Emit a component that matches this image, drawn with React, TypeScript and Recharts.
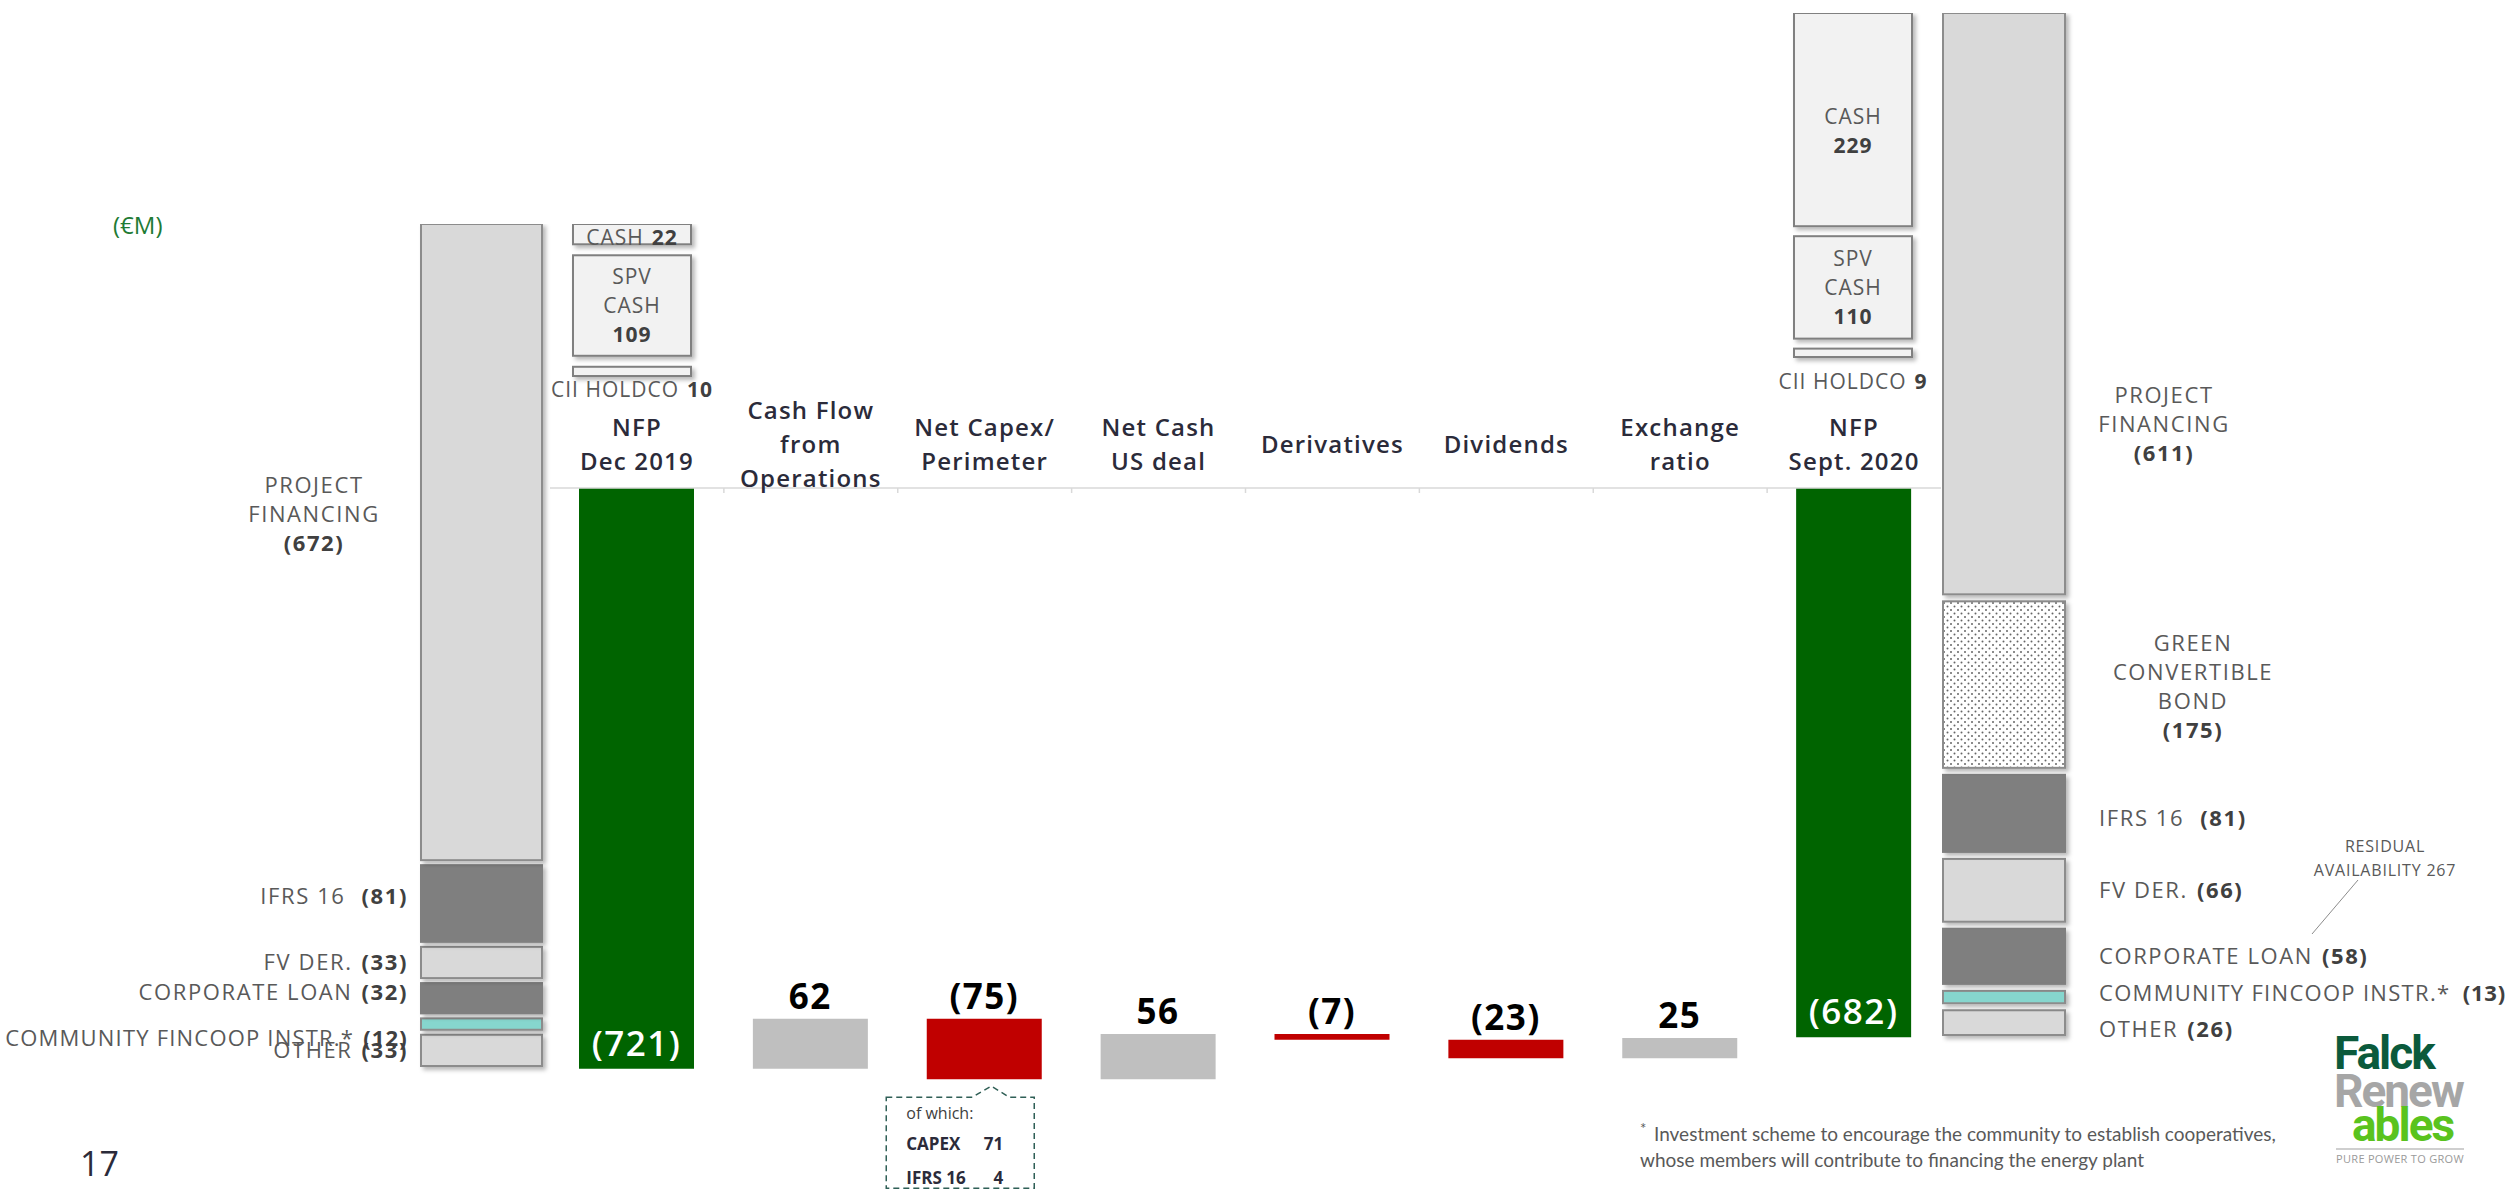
import React from 'react';
import { BarChart, Bar, XAxis, YAxis, Cell, LabelList } from 'recharts';

const FONT = '"Open Sans", "DejaVu Sans", sans-serif';
const TEXT_GRAY = '#595959';
const NUM_GRAY = '#404040';
const DARK = '#2b2b3a';

// bridge (NFP walk)
const categories = [
  'NFP\nDec 2019',
  'Cash Flow\nfrom\nOperations',
  'Net Capex/\nPerimeter',
  'Net Cash\nUS deal',
  'Derivatives',
  'Dividends',
  'Exchange\nratio',
  'NFP\nSept. 2020',
];
const bridgeValues = [-721, 62, -75, 56, -7, -23, 25, -682];
const totalFlags = [true, false, false, false, false, false, false, true];

const capexBreakdownLabels = ['CAPEX', 'IFRS 16'];
const capexBreakdownValues = [71, 4];

// debt breakdown, top to bottom
const debtDec2019Labels = ['PROJECT FINANCING', 'IFRS 16', 'FV DER.', 'CORPORATE LOAN', 'COMMUNITY FINCOOP INSTR.*', 'OTHER'];
const debtDec2019Values = [672, 81, 33, 32, 12, 33];
const debtSep2020Labels = ['PROJECT FINANCING', 'GREEN CONVERTIBLE BOND', 'IFRS 16', 'FV DER.', 'CORPORATE LOAN', 'COMMUNITY FINCOOP INSTR.*', 'OTHER'];
const debtSep2020Values = [611, 175, 81, 66, 58, 13, 26];

// cash, top to bottom
const cashLabels = ['CASH', 'SPV CASH', 'CII HOLDCO'];
const cashDec2019Values = [22, 109, 10];
const cashSep2020Values = [229, 110, 9];

const residualAvailability = 267;

let running = 0;
const bridgeData = categories.map((name, i) => {
  const v = bridgeValues[i];
  let lo: number, hi: number;
  if (totalFlags[i]) {
    lo = v; hi = 0; running = v;
  } else {
    lo = Math.min(running, running + v); hi = Math.max(running, running + v); running += v;
  }
  return { name, value: v, total: totalFlags[i], range: [lo, hi] };
});
const capexIndex = categories.indexOf('Net Capex/\nPerimeter');

const fmt = (v: number) => (v < 0 ? `(${Math.abs(v)})` : `${v}`);
const paren = (v: number) => `(${v})`;

const MAIN_W = 1391;
const BAND = MAIN_W / categories.length;

function CategoryTick(props: any) {
  const { x, y, payload, index } = props;
  const lines = String(payload.value).split('\n');
  const lh = 34;
  const cy = y - 44;
  return (
    <g>
      <text textAnchor="middle" fontFamily={FONT} fontSize={24} fontWeight={600} fill={DARK} letterSpacing={1.2}>
        {lines.map((l, k) => (
          <tspan key={k} x={x} y={cy + (k - (lines.length - 1) / 2) * lh + 8.5}>{l}</tspan>
        ))}
      </text>
      {index < categories.length - 1 && (
        <line x1={x + BAND / 2} x2={x + BAND / 2} y1={y} y2={y + 5} stroke="#d9d9d9" strokeWidth={1.5} />
      )}
    </g>
  );
}

function Callout({ cx, b }: { cx: number; b: number }) {
  const L = cx - 98, R = cx + 50, T = b + 18, B = b + 109;
  const d = `M ${L} ${T} L ${cx - 12} ${T} L ${cx + 7} ${b + 7} L ${cx + 25} ${T} L ${R} ${T} L ${R} ${B} L ${L} ${B} Z`;
  return (
    <g fontFamily={FONT}>
      <path d={d} fill="none" stroke="#2f5f56" strokeWidth={1.5} strokeDasharray="6 4" />
      <text x={L + 20} y={T + 22} fontSize={16} fill={NUM_GRAY}>of which:</text>
      {capexBreakdownLabels.map((l, k) => (
        <g key={l}>
          <text x={L + 20} y={T + 53 + k * 34} fontSize={17} fontWeight={700} fill={DARK}>{l}</text>
          <text x={R - 31} y={T + 53 + k * 34} fontSize={17} fontWeight={700} fill={DARK} textAnchor="end">
            {capexBreakdownValues[k]}
          </text>
        </g>
      ))}
    </g>
  );
}

const renderBridgeLabel = (p: any) => {
  const vb = p.viewBox && p.viewBox.width !== undefined ? p.viewBox : p;
  const h = vb.height || 0;
  const top = Math.min(vb.y, vb.y + h);
  const bottom = Math.max(vb.y, vb.y + h);
  const i = typeof p.index === 'number' ? p.index : bridgeData.findIndex((d) => d.value === p.value);
  const d = bridgeData[i];
  if (!d) return null;
  const cx = vb.x + vb.width / 2;
  return (
    <g>
      {d.total ? (
        <text x={cx} y={bottom - 25 + 12} textAnchor="middle" fontFamily={FONT} fontSize={35} fontWeight={600} fill="#fff" letterSpacing={1.5}>
          {fmt(d.value)}
        </text>
      ) : (
        <text x={cx} y={top - 22 + 12} textAnchor="middle" fontFamily={FONT} fontSize={35} fontWeight={700} fill="#000" letterSpacing={1.5}>
          {fmt(d.value)}
        </text>
      )}
      {i === capexIndex && <Callout cx={cx} b={bottom} />}
    </g>
  );
};

type Box = { x: number; y: number; width: number; height: number };

function segStyle(label: string) {
  if (label === 'IFRS 16' || label === 'CORPORATE LOAN') return { fill: '#7f7f7f', stroke: '#7f7f7f' };
  if (label.startsWith('COMMUNITY')) return { fill: '#86d6ce', stroke: '#8c8c8c' };
  if (label.startsWith('GREEN')) return { fill: 'url(#dots)', stroke: '#8c8c8c' };
  if (cashLabels.includes(label)) return { fill: '#f2f2f2', stroke: '#808080' };
  return { fill: '#d9d9d9', stroke: '#8c8c8c' };
}

function Stack(props: {
  labels: string[]; values: number[]; left: number; top: number; width: number;
  barX: number; barW: number; gap: number; plotH: number; bottomPad: number;
  renderLabel: (label: string, value: number, box: Box) => React.ReactNode;
}) {
  const { labels, values, left, top, width, barX, barW, gap, plotH, bottomPad, renderLabel } = props;
  const n = values.length;
  const row: Record<string, number> = {};
  values.forEach((v, i) => { row['s' + i] = v; });
  const total = values.reduce((a, b) => a + b, 0);
  const bottomFirst = values.map((_, k) => n - 1 - k);
  // the band is 2px wider than the bar so Recharts keeps the exact bar size
  return (
    <div style={{ position: 'absolute', left, top }}>
      <BarChart
        width={width}
        height={(n - 1) * gap + plotH + bottomPad}
        data={[row]}
        margin={{ top: (n - 1) * gap, right: width - barX - barW - 1, bottom: bottomPad, left: barX - 1 }}
        barCategoryGap={0}
      >
        <XAxis hide />
        <YAxis hide domain={[0, total]} />
        {bottomFirst.map((i, k) => (
          <Bar
            key={i}
            dataKey={'s' + i}
            stackId="s"
            barSize={barW}
            isAnimationActive={false}
            shape={(p: any) => {
              const box = { x: p.x, y: p.y - k * gap, width: p.width, height: p.height };
              const st = segStyle(labels[i]);
              return (
                <g>
                  <rect x={box.x} y={box.y} width={box.width} height={box.height} fill={st.fill} stroke={st.stroke} strokeWidth={2} filter="url(#boxShadow)" />
                  {renderLabel(labels[i], values[i], box)}
                </g>
              );
            }}
          />
        ))}
      </BarChart>
    </div>
  );
}

type Off = { dx?: number; dy?: number; valueX?: number; ls?: number };

function debtLabeler(side: 'left' | 'right', offsets: Record<string, Off>) {
  return (label: string, value: number, box: Box) => {
    const o = offsets[label] || {};
    const dx = o.dx ?? (side === 'left' ? -13 : 34);
    const dy = o.dy ?? 0;
    const edge = side === 'left' ? box.x : box.x + box.width;
    const cy = box.y + box.height / 2 + dy;
    const common = { fontFamily: FONT, fontSize: 22, letterSpacing: o.ls ?? 1.6 };
    if (box.height > 100) {
      const lines: (string | null)[] = [...label.split(' '), null];
      const lh = 29;
      return (
        <text textAnchor="middle" {...common}>
          {lines.map((l, k) => (
            <tspan key={k} x={edge + dx} y={cy + (k - (lines.length - 1) / 2) * lh + 8}
              fontWeight={l === null ? 700 : 400} fill={l === null ? NUM_GRAY : TEXT_GRAY}>
              {l === null ? paren(value) : l}
            </tspan>
          ))}
        </text>
      );
    }
    if (o.valueX !== undefined) {
      return (
        <g>
          <text x={edge + dx} y={cy + 8} textAnchor="start" fill={TEXT_GRAY} {...common}>{label}</text>
          <text x={edge + o.valueX} y={cy + 8} textAnchor="end" fill={NUM_GRAY} fontWeight={700} fontFamily={FONT} fontSize={22} letterSpacing={0.8}>
            {paren(value)}
          </text>
        </g>
      );
    }
    return (
      <text x={edge + dx} y={cy + 8} textAnchor={side === 'left' ? 'end' : 'start'} fill={TEXT_GRAY} {...common}>
        {label}
        <tspan dx={label === 'IFRS 16' ? 16 : 9} fontWeight={700} fill={NUM_GRAY}>{paren(value)}</tspan>
      </text>
    );
  };
}

function cashLabeler(belowDy: number, dyMap: Record<string, number>) {
  return (label: string, value: number, box: Box) => {
    const cx = box.x + box.width / 2;
    const dy = dyMap[label] ?? 0;
    const common = { fontFamily: FONT, fontSize: 21, letterSpacing: 1, fill: TEXT_GRAY };
    if (box.height < 15) {
      return (
        <text x={cx} y={box.y + box.height + belowDy + 7} textAnchor="middle" {...common}>
          {label}
          <tspan dx={8} fontWeight={700} fill={NUM_GRAY}>{value}</tspan>
        </text>
      );
    }
    if (box.height < 40) {
      return (
        <text x={cx} y={box.y + box.height / 2 + dy + 7} textAnchor="middle" {...common}>
          {label}
          <tspan dx={8} fontWeight={700} fill={NUM_GRAY}>{value}</tspan>
        </text>
      );
    }
    const lines: (string | null)[] = [...label.split(' '), null];
    const cy = box.y + box.height / 2 + dy;
    return (
      <text textAnchor="middle" {...common}>
        {lines.map((l, k) => (
          <tspan key={k} x={cx} y={cy + (k - (lines.length - 1) / 2) * 29 + 7.5}
            fontWeight={l === null ? 700 : 400} fill={l === null ? NUM_GRAY : TEXT_GRAY}>
            {l === null ? value : l}
          </tspan>
        ))}
      </text>
    );
  };
}

export default function App() {
  return (
    <div style={{ position: 'absolute', left: 0, top: 0, width: 2509, height: 1189, background: '#fff', overflow: 'hidden', fontFamily: FONT }}>
      <svg width={2509} height={1189} style={{ position: 'absolute', left: 0, top: 0 }}>
        <defs>
          <filter id="boxShadow" filterUnits="userSpaceOnUse" x={-200} y={-200} width={3000} height={1600}>
            <feDropShadow dx={3} dy={3} stdDeviation={2} floodColor="#000" floodOpacity={0.28} />
          </filter>
          <pattern id="dots" width={7} height={7} patternUnits="userSpaceOnUse">
            <rect width={7} height={7} fill="#fff" />
            <circle cx={2} cy={2} r={1} fill="#666" />
            <circle cx={5.5} cy={5.5} r={1} fill="#666" />
          </pattern>
        </defs>
        <text x={113} y={234} fontFamily={FONT} fontSize={24} fill="#1e7b34">(€M)</text>
        <text x={80} y={1176} fontFamily={FONT} fontSize={34} fill={DARK}>17</text>
        <g fontFamily='"Lato", "Open Sans", sans-serif' fontSize={19} fill={TEXT_GRAY}>
          <text x={1640} y={1134} fontSize={15}>*</text>
          <text x={1654} y={1141}>Investment scheme to encourage the community to establish cooperatives,</text>
          <text x={1640} y={1167}>whose members will contribute to financing the energy plant</text>
        </g>
        <g fontFamily={FONT} fontSize={16} fill={TEXT_GRAY} letterSpacing={0.8} textAnchor="middle">
          <text x={2385} y={852}>RESIDUAL</text>
          <text x={2385} y={876}>AVAILABILITY {residualAvailability}</text>
        </g>
        <line x1={2358} y1={880} x2={2312} y2={934} stroke="#8c8c8c" strokeWidth={1} />
        <g fontFamily="Roboto, sans-serif" fontWeight={700} fontSize={46} letterSpacing={-2}>
          <text x={2334} y={1069} fill="#0b5a3c">Falck</text>
          <text x={2334} y={1107} fill="#a6a6a6">Renew</text>
          <text x={2352} y={1141} fill="#5ac31e">ables</text>
        </g>
        <line x1={2336} x2={2464} y1={1149} y2={1149} stroke="#bfbfbf" strokeWidth={1.5} />
        <text x={2400} y={1163} textAnchor="middle" fontFamily={FONT} fontSize={11} fill="#9a9a9a" letterSpacing={0.3}>PURE POWER TO GROW</text>
      </svg>

      <div style={{ position: 'absolute', left: 550, top: 330 }}>
        <BarChart width={MAIN_W} height={859} data={bridgeData} margin={{ top: 8, right: 0, bottom: 105, left: 0 }} barCategoryGap={0}>
          <XAxis
            dataKey="name"
            orientation="top"
            height={150}
            interval={0}
            tickSize={0}
            tickMargin={0}
            tickLine={false}
            axisLine={{ stroke: '#d9d9d9', strokeWidth: 1.5 }}
            tick={<CategoryTick />}
          />
          <YAxis hide domain={[-740, 0]} />
          <Bar dataKey="range" barSize={115} isAnimationActive={false}>
            {bridgeData.map((d, i) => (
              <Cell key={i} fill={d.total ? '#006400' : d.value >= 0 ? '#bfbfbf' : '#c00000'} />
            ))}
            <LabelList dataKey="value" content={renderBridgeLabel} />
          </Bar>
        </BarChart>
      </div>

      <Stack
        labels={debtDec2019Labels}
        values={debtDec2019Values}
        left={0} top={224} width={560} barX={421} barW={121}
        gap={5} plotH={817} bottomPad={10}
        renderLabel={debtLabeler('left', {
          'PROJECT FINANCING': { dx: -107, dy: -28 },
          'COMMUNITY FINCOOP INSTR.*': { dy: 14, ls: 1.2 },
          'IFRS 16': { dy: -8 },
          'CORPORATE LOAN': { dy: -6 },
        })}
      />
      <Stack
        labels={debtSep2020Labels}
        values={debtSep2020Values}
        left={1942} top={13} width={567} barX={1} barW={122}
        gap={7} plotH={980} bottomPad={10}
        renderLabel={debtLabeler('right', {
          'PROJECT FINANCING': { dx: 99, dy: 120 },
          'GREEN CONVERTIBLE BOND': { dx: 128, dy: 2 },
          'COMMUNITY FINCOOP INSTR.*': { valueX: 441, dy: -4, ls: 1.3 },
          'IFRS 16': { dy: 5 },
          'OTHER': { dy: 6 },
        })}
      />
      <Stack
        labels={cashLabels}
        values={cashDec2019Values}
        left={540} top={224} width={190} barX={33} barW={118}
        gap={11} plotH={130} bottomPad={40}
        renderLabel={cashLabeler(14, { CASH: 4 })}
      />
      <Stack
        labels={cashLabels}
        values={cashSep2020Values}
        left={1760} top={13} width={190} barX={34} barW={118}
        gap={10} plotH={324} bottomPad={40}
        renderLabel={cashLabeler(25, { CASH: 11 })}
      />
    </div>
  );
}
